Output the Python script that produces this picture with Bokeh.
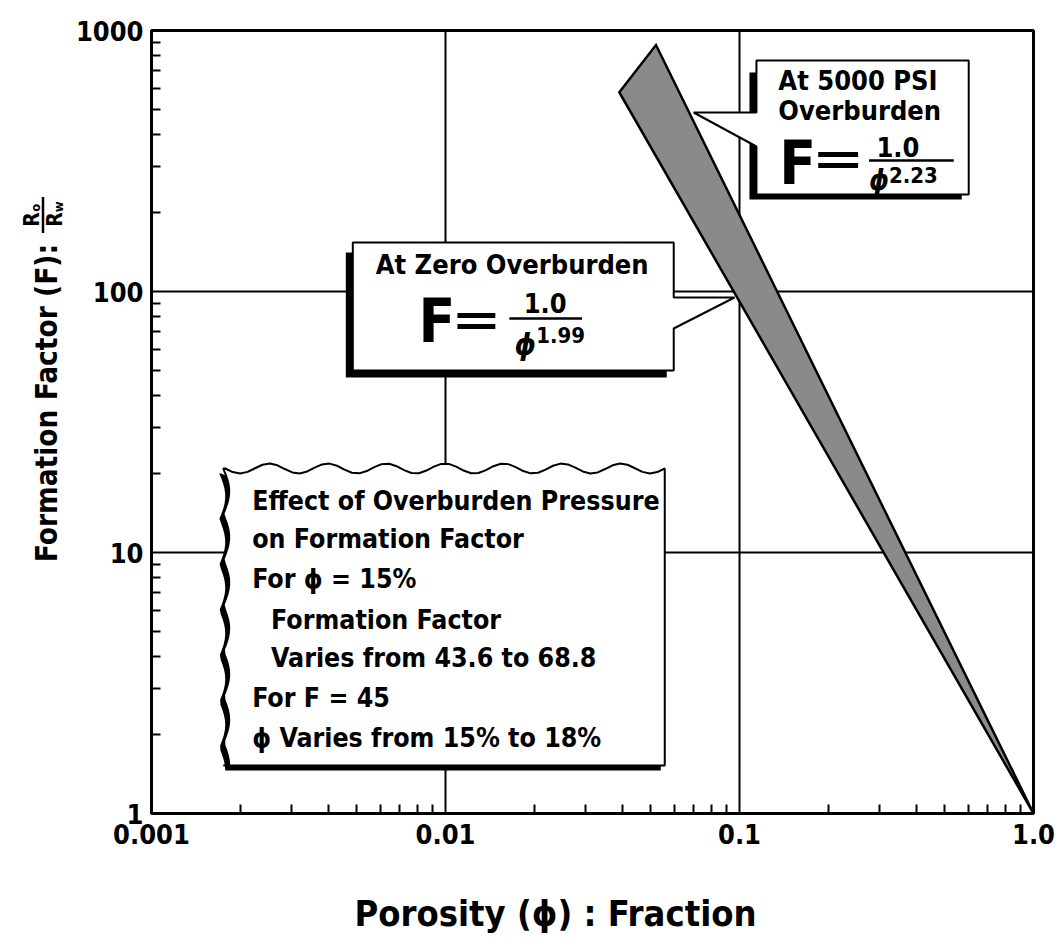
import numpy as np
from bokeh.plotting import figure
from bokeh.layouts import column, row
from bokeh.models import FixedTicker, Label, Range1d
from bokeh.core.properties import value
from bokeh.embed import file_html
from bokeh.resources import INLINE

# ---------------- data ----------------
band_phi = [1.0, 0.039, 0.052]       # porosity at the band vertices
band_F = [1.0, 580.0, 880.0]         # formation factor at the band vertices
x_ticks = [0.001, 0.01, 0.1, 1.0]
x_tick_labels = ["0.001", "0.01", "0.1", "1.0"]
y_ticks = [1.0, 10.0, 100.0, 1000.0]
y_tick_labels = ["1", "10", "100", "1000"]
exp_zero = "1.99"
exp_5000 = "2.23"
effect_lines = [
    ("Effect of Overburden Pressure", 0),
    ("on Formation Factor", 0),
    ("For \u03d5 = 15%", 0),
    ("Formation Factor", 1),
    ("Varies from 43.6 to 68.8", 1),
    ("For F = 45", 0),
    ("\u03d5 Varies from 15% to 18%", 0),
]
x_title = "Porosity (\u03d5) : Fraction"
y_title = "Formation Factor (F):"

# ---------------- layout ----------------
W, H = 1061, 948
LW = 72            # left strip (y title)
BH = 78            # bottom strip (x title)
L, R, T, B = 148, 1033, 30, 813      # frame in page pixels
FONT = "'DejaVu Sans Condensed', 'Liberation Sans Narrow', 'Roboto Condensed', Roboto, sans-serif"


def dx(px):
    return 10 ** (-3 + 3 * (px - L) / (R - L))


def dy(py):
    return 10 ** (3 - 3 * (py - T) / (B - T))


p = figure(width=W - LW, height=H - BH, x_axis_type="log", y_axis_type="log",
           x_range=Range1d(0.001, 1.0), y_range=Range1d(1.0, 1000.0),
           output_backend="svg", toolbar_location=None,
           min_border_left=L - LW, min_border_right=W - R,
           min_border_top=T, min_border_bottom=H - BH - B)
p.background_fill_color = "white"
p.border_fill_color = "white"
p.outline_line_color = "black"
p.outline_line_width = 3

minor_x = [m * 10.0 ** e for e in (-3, -2, -1) for m in range(2, 10)]
minor_y = [m * 10.0 ** e for e in (0, 1, 2) for m in range(2, 10)]
p.xaxis.ticker = FixedTicker(ticks=x_ticks, minor_ticks=minor_x)
p.yaxis.ticker = FixedTicker(ticks=y_ticks, minor_ticks=minor_y)
p.xaxis.major_label_overrides = dict(zip(x_ticks, x_tick_labels))
p.yaxis.major_label_overrides = dict(zip(y_ticks, y_tick_labels))
for ax in (p.xaxis, p.yaxis):
    ax.axis_line_width = 3
    ax.axis_line_color = "black"
    ax.major_tick_in = 0
    ax.major_tick_out = 0
    ax.minor_tick_in = 9
    ax.minor_tick_out = 0
    ax.minor_tick_line_width = 2
    ax.minor_tick_line_color = "black"
    ax.major_label_text_font = FONT
    ax.major_label_text_font_style = "bold"
    ax.major_label_text_font_size = "27px"
    ax.major_label_text_color = "black"
p.xaxis.major_label_standoff = 10
p.yaxis.major_label_standoff = 8

for g in (p.xgrid, p.ygrid):
    g.grid_line_color = "black"
    g.grid_line_width = 2

# ---------------- band ----------------
p.patch(band_phi, band_F, fill_color="#8a8a8a", line_color="black",
        line_width=2.5, line_join="miter")


def poly(pts, fill="white", line="black", lw=2):
    xs = [dx(a) for a, b in pts]
    ys = [dy(b) for a, b in pts]
    p.patch(xs, ys, fill_color=fill, line_color=line if line else None,
            line_width=lw)


def label(px, py, s, size, align="left", style="bold", angle=0.0):
    p.add_layout(Label(x=dx(px), y=dy(py), text=s, text_font=FONT,
                       text_font_size=f"{size}px", text_font_style=style,
                       text_align=align, text_baseline="middle",
                       text_color="black", angle=angle))


def seg(x0, y0, x1, y1, lw=2):
    p.segment(x0=[dx(x0)], y0=[dy(y0)], x1=[dx(x1)], y1=[dy(y1)],
              line_color="black", line_width=lw)


def equals(x0, x1, ya, yb):
    seg(x0, ya, x1, ya, 5)
    seg(x0, yb, x1, yb, 5)


# ---------------- callout: 5000 PSI ----------------
bx0, bx1, by0, by1 = 755, 968, 60, 194
poly([(bx0 - 7, by0 + 12), (bx1 - 7, by0 + 12), (bx1 - 7, by1 + 5),
      (bx0 - 7, by1 + 5)], fill="black", line=None)
poly([(bx0, by0), (bx1, by0), (bx1, by1), (bx0, by1), (bx0, 146),
      (692, 112), (bx0, 112)])
label(777, 80, "At 5000 PSI", 27)
label(777, 110, "Overburden", 27)
label(778, 162, "F", 60)
equals(817, 857, 154, 165)
seg(868, 160, 953, 160, 2.5)
label(897, 146, "1.0", 27, align="center")
label(878, 180, "\u03d5", 28, align="center", style="bold italic")
label(888, 174, exp_5000, 22)

# ---------------- callout: zero overburden ----------------
cx0, cx1, cy0, cy1 = 350, 672, 242, 370
poly([(cx0 - 7, cy0 + 10), (cx1 - 7, cy0 + 10), (cx1 - 7, cy1 + 7),
      (cx0 - 7, cy1 + 7)], fill="black", line=None)
poly([(cx0, cy0), (cx1, cy0), (cx1, 297), (733, 297), (cx1, 328),
      (cx1, cy1), (cx0, cy1)])
label(373, 264, "At Zero Overburden", 27)
label(416, 320, "F", 60)
equals(455, 493, 315, 326)
seg(507, 318, 580, 318, 2.5)
label(543, 302, "1.0", 27, align="center")
label(523, 344, "\u03d5", 30, align="center", style="bold italic")
label(534, 334, exp_zero, 22)

# ---------------- wavy callout ----------------
top_x = np.linspace(222, 663, 60)
top_y = 468 + 5 * np.sin((top_x - 222) / 441 * 2 * np.pi * 7.5)
left_y = np.linspace(765, 468, 60)
left_x = 220 + 6 * np.abs(np.sin((left_y - 468) / 297 * np.pi * 6.5))
wavy = [(663, 765)] + [(220, 765)] + list(zip(left_x, left_y)) + \
    list(zip(top_x, top_y)) + [(663, 765)]
poly([(a - 4, b + 5) for a, b in wavy], fill="black", line=None)
poly(wavy)
ys = [500, 538, 578, 619, 657, 697, 737]
for (txt, ind), yy in zip(effect_lines, ys):
    label(249 + 19 * ind, yy, txt, 26.5)


# ---------------- title strips ----------------
def strip(w, h):
    f = figure(width=w, height=h, x_range=Range1d(0, w), y_range=Range1d(h, 0),
               output_backend="svg", toolbar_location=None,
               x_axis_location=None, y_axis_location=None, min_border=0)
    f.outline_line_color = None
    f.grid.visible = False
    f.background_fill_color = "white"
    f.border_fill_color = "white"
    return f


def stext(f, x, y, s, size, angle=0.0, align="center", style="bold"):
    f.text(x=[x], y=[y], text=[s], angle=angle, text_font=value(FONT),
           text_font_size=f"{size}px", text_font_style=style,
           text_align=align, text_baseline="middle", text_color="black")


left = strip(LW, H - BH)
stext(left, 46, 414, y_title, 29.5, angle=np.pi / 2)
# R_o / R_w fraction at the top end of the y title
stext(left, 31, 210, "R", 21, angle=np.pi / 2)
stext(left, 35, 197, "o", 13, angle=np.pi / 2)
stext(left, 54, 210, "R", 21, angle=np.pi / 2)
stext(left, 58, 196, "w", 13, angle=np.pi / 2)
left.segment(x0=[42.5], y0=[185], x1=[42.5], y1=[225], line_color="black",
             line_width=2.5)

bottom = strip(W, BH)
stext(bottom, 555, 913 - (H - BH), x_title, 36)

layout = column(row(left, p), bottom)
open("out.html", "w").write(file_html(layout, INLINE))
